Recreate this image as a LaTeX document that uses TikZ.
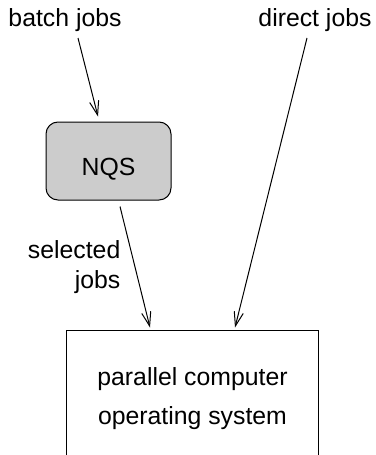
\documentclass[tikz,border=0pt]{standalone}
\usepackage{fontspec}
\setmainfont{Liberation Sans}
\usetikzlibrary{arrows.meta}

\begin{document}
\begin{tikzpicture}[x=0.5pt, y=-0.5pt, >={Straight Barb[length=7pt,width=4.6pt]},
    every node/.style={font=\fontsize{12.4}{15}\selectfont},
    every path/.style={line width=0.5pt}]
  \useasboundingbox (0, 0) rectangle (375, 455);

  \node (batch) at (65, 20) {batch jobs};
  \node (direct) at (315, 20) {direct jobs};

  \node[draw, rounded corners=6pt, fill=gray!40, minimum width=62.5pt,
        minimum height=39pt, text height=14.9pt, text depth=0pt] (nqs) at (108.5, 161) {NQS};

  % operating system box, open at the bottom
  \node[minimum width=125.5pt, minimum height=68pt, align=center,
        font=\fontsize{12.4}{19.5}\selectfont] (os) at (192.5, 399) {parallel computer\\operating system};
  \draw (os.south west) -- (os.north west) -- (os.north east) -- (os.south east);

  \draw[->] ([shift={(13, 18)}]batch.center) -- ([shift={(-10.5, -5)}]nqs.north);
  \draw[->] ([shift={(11.5, 6)}]nqs.south) -- ([shift={(-42.5, -3)}]os.north)
    node[pos=0.45, left=3pt, yshift=-3pt, align=right] (sel) {selected\\jobs};
  \draw[->] ([shift={(-8, 18)}]direct.center) -- ([shift={(42.5, -3)}]os.north);
\end{tikzpicture}
\end{document}
